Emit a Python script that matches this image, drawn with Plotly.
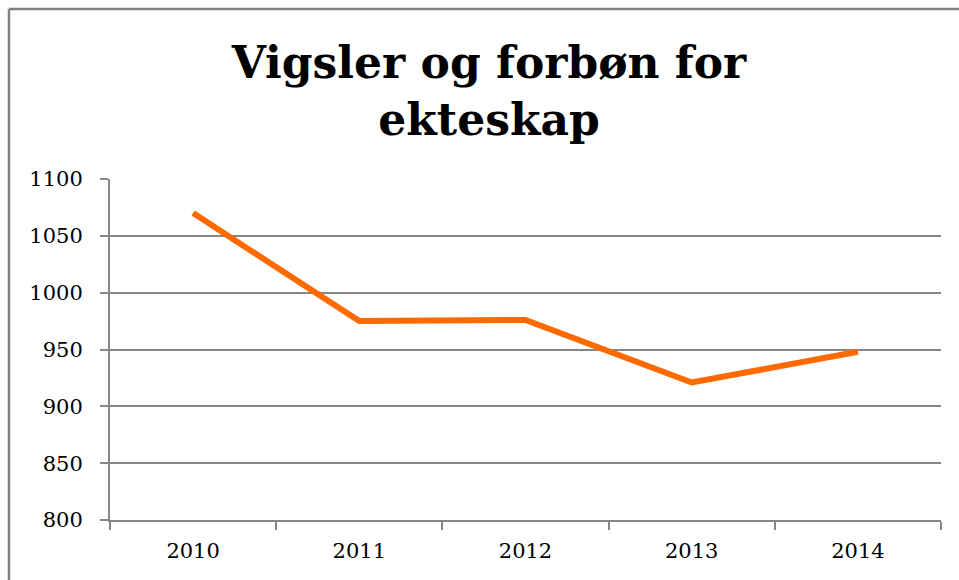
import plotly.graph_objects as go

years = ["2010", "2011", "2012", "2013", "2014"]
values = [1070, 975, 976, 921, 948]
y_ticks = [800, 850, 900, 950, 1000, 1050, 1100]

W, H = 959, 580
L, T = 110, 179
R = W - 941
B = H - 520
pw, ph = W - L - R, H - T - B

def px_x(p):
    return (p - L) / pw

def px_y(p):
    return (H - B - p) / ph

grid = "#868686"
font_family = "DejaVu Serif"

fig = go.Figure()
fig.add_trace(go.Scatter(
    x=years, y=values, mode="lines",
    line=dict(color="#FF6A00", width=6),
    hoverinfo="skip", showlegend=False,
))

fig.update_layout(
    width=W, height=H,
    margin=dict(l=L, r=R, t=T, b=B, pad=0, autoexpand=False),
    paper_bgcolor="white", plot_bgcolor="white",
    font=dict(family=font_family, color="black"),
    title=dict(
        text="<b>Vigsler og forbøn for<br>ekteskap</b>",
        x=489 / W, xanchor="center", xref="container",
        y=1 - 78 / H, yanchor="middle", yref="container",
        font=dict(family=font_family, size=44, color="black"),
    ),
    xaxis=dict(
        type="category", range=[-0.5, 4.5], automargin=False,
        showgrid=False, showline=True, linecolor=grid, linewidth=2,
        ticks="outside", tickson="boundaries", ticklen=8, tickwidth=2, tickcolor=grid,
        tickfont=dict(size=21, family=font_family, color="black"),
        ticklabelstandoff=11,
    ),
    yaxis=dict(
        range=[800, 1100], tickvals=y_ticks, automargin=False,
        showgrid=True, gridcolor=grid, gridwidth=2,
        showline=True, linecolor=grid, linewidth=2, zeroline=False,
        ticks="outside", ticklen=8, tickwidth=2, tickcolor=grid,
        tickfont=dict(size=21, family=font_family, color="black"),
        ticklabelstandoff=13,
    ),
)

border = dict(color="#808080", width=2.5)
fig.add_shape(type="line", xref="paper", yref="paper",
              x0=px_x(9), x1=px_x(W + 40), y0=px_y(9), y1=px_y(9),
              line=border, layer="above")
fig.add_shape(type="line", xref="paper", yref="paper",
              x0=px_x(9), x1=px_x(9), y0=px_y(9), y1=px_y(H + 40),
              line=border, layer="above")

fig.write_html(
    "out.html",
    config={"displayModeBar": False, "staticPlot": True},
    post_script="document.body.style.margin='0';document.body.style.overflow='hidden';",
)
